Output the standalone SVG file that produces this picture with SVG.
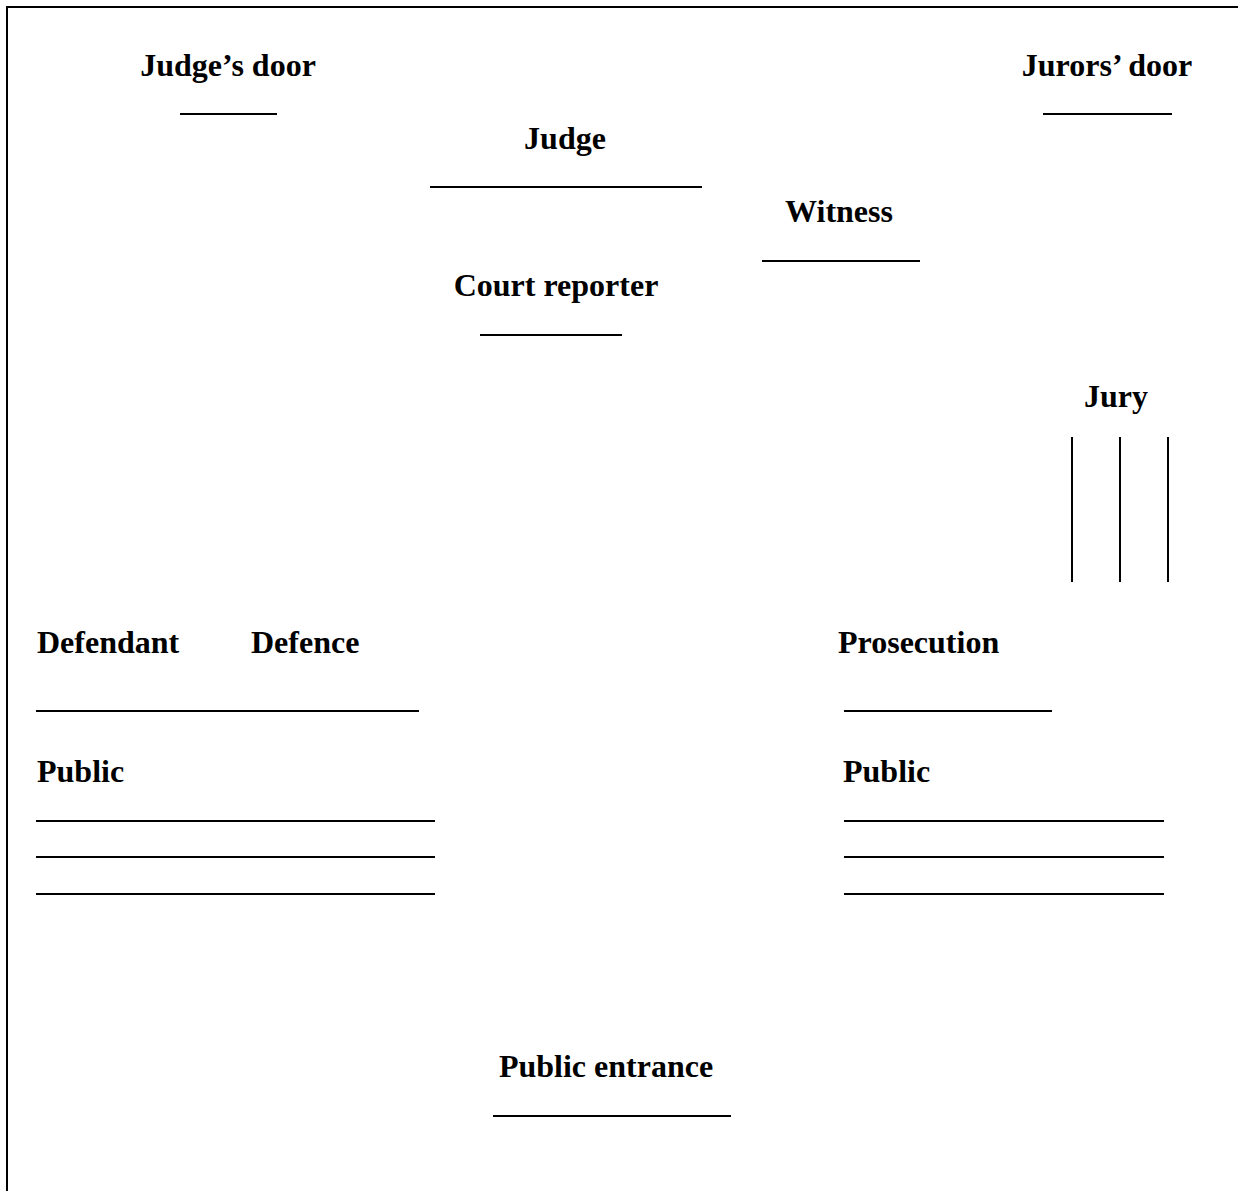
<svg xmlns="http://www.w3.org/2000/svg" width="1238" height="1191" viewBox="0 0 1238 1191">
<style>
text{font-family:"Liberation Serif","Times New Roman",serif;font-weight:bold;font-size:32px;fill:#000}
.c{text-anchor:middle}
line{stroke:#000;stroke-width:2}
.frame{fill:none;stroke:#000;stroke-width:2}
</style>
<rect width="1238" height="1191" fill="#fff"/>
<path class="frame" d="M7,1191 V7 H1238"/>
<g id="judges-door"><text class="c" x="228" y="76">Judge’s door</text><line x1="180" y1="114" x2="277" y2="114"/></g>
<g id="jurors-door"><text class="c" x="1107" y="76">Jurors’ door</text><line x1="1043" y1="114" x2="1172" y2="114"/></g>
<g id="judge"><text class="c" x="565" y="149">Judge</text><line x1="430" y1="187" x2="702" y2="187"/></g>
<g id="witness"><text class="c" x="839" y="222">Witness</text><line x1="762" y1="261" x2="920" y2="261"/></g>
<g id="court-reporter"><text class="c" x="556" y="296">Court reporter</text><line x1="480" y1="335" x2="622" y2="335"/></g>
<g id="jury"><text class="c" x="1116" y="407">Jury</text>
<line x1="1072" y1="437" x2="1072" y2="582"/><line x1="1120" y1="437" x2="1120" y2="582"/><line x1="1168" y1="437" x2="1168" y2="582"/></g>
<g id="defendant"><text x="37" y="653">Defendant</text></g>
<g id="defence"><text x="251" y="653">Defence</text><line x1="36" y1="711" x2="419" y2="711"/></g>
<g id="prosecution"><text x="838" y="653">Prosecution</text><line x1="844" y1="711" x2="1052" y2="711"/></g>
<g id="public-left"><text x="37" y="782">Public</text>
<line x1="36" y1="821" x2="435" y2="821"/><line x1="36" y1="857" x2="435" y2="857"/><line x1="36" y1="894" x2="435" y2="894"/></g>
<g id="public-right"><text x="843" y="782">Public</text>
<line x1="844" y1="821" x2="1164" y2="821"/><line x1="844" y1="857" x2="1164" y2="857"/><line x1="844" y1="894" x2="1164" y2="894"/></g>
<g id="public-entrance"><text class="c" x="606" y="1077">Public entrance</text><line x1="493" y1="1116" x2="731" y2="1116"/></g>
<g id="connectors"></g>
</svg>
